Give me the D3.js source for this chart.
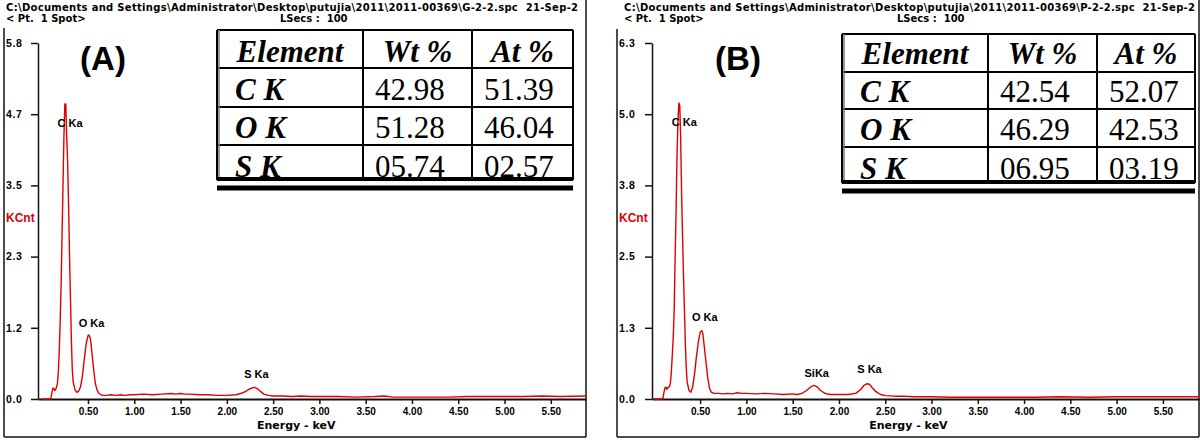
<!DOCTYPE html>
<html>
<head>
<meta charset="utf-8">
<script src="https://cdn.jsdelivr.net/npm/d3@7/dist/d3.min.js"></script>
<style>
body{margin:0;background:#fff;}
svg{display:block;font-family:"Liberation Sans",Arial,sans-serif;}
.head text{white-space:pre;}
</style>
</head>
<body>
<svg id="chart" width="1200" height="443"></svg>
<script>
// ---- data ----
var xTicks = [0.5,1.0,1.5,2.0,2.5,3.0,3.5,4.0,4.5,5.0,5.5];

var yTicksA = [0,1.17,2.34,3.51,4.68,5.85];
var yLabelsA = ["0.0","1.2","2.3","3.5","4.7","5.8"];
var yTicksB = [0,1.26,2.52,3.78,5.04,6.3];
var yLabelsB = ["0.0","1.3","2.5","3.8","5.0","6.3"];

// [energy keV, KCnt]
var spectrumA = [[0,0],[0.09,0],[0.10,0.02],[0.11,0.1],[0.12,0.17],[0.13,0.18],[0.14,0.14],[0.15,0.15],[0.16,0.2],
  [0.17,0.25],[0.18,0.45],[0.19,0.8],[0.20,1.3],[0.21,1.9],[0.22,2.7],[0.23,3.5],[0.24,4.3],[0.25,4.85],[0.26,4.85],
  [0.27,4.3],[0.28,3.9],[0.29,3.2],[0.30,2.4],[0.31,1.7],[0.32,1.0],[0.33,0.5],[0.34,0.28],[0.36,0.15],[0.38,0.11],
  [0.40,0.13],[0.42,0.2],[0.44,0.38],[0.46,0.65],[0.48,0.9],[0.50,1.04],[0.51,1.05],[0.52,1.02],[0.53,0.95],[0.54,0.8],
  [0.56,0.5],[0.58,0.25],[0.60,0.14],[0.62,0.09],[0.64,0.07],[0.66,0.06],[0.70,0.06],[0.75,0.07],[0.80,0.06],[0.85,0.07],
  [0.90,0.06],[0.95,0.07],[1.00,0.07],[1.10,0.08],[1.20,0.07],[1.30,0.08],[1.40,0.09],[1.45,0.08],[1.50,0.09],[1.55,0.08],
  [1.60,0.08],[1.70,0.07],[1.80,0.07],[1.90,0.06],[2.00,0.06],[2.10,0.07],[2.15,0.09],[2.20,0.12],[2.24,0.16],[2.27,0.18],
  [2.30,0.19],[2.33,0.17],[2.36,0.13],[2.40,0.08],[2.45,0.06],[2.50,0.05],[2.60,0.05],[2.70,0.04],[2.80,0.05],[2.90,0.04],
  [3.00,0.04],[3.20,0.04],[3.40,0.03],[3.60,0.04],[3.70,0.05],[3.80,0.03],[4.00,0.03],[4.20,0.03],[4.40,0.03],[4.60,0.04],
  [4.80,0.04],[5.00,0.04],[5.20,0.04],[5.40,0.05],[5.60,0.04],[5.88,0.05]];

var spectrumB = [[0,0],[0.09,0],[0.10,0.03],[0.11,0.12],[0.12,0.2],[0.13,0.21],[0.14,0.17],[0.15,0.2],[0.16,0.21],
  [0.17,0.22],[0.18,0.3],[0.19,0.5],[0.20,0.8],[0.21,1.1],[0.22,1.6],[0.23,2.5],[0.24,3.3],[0.25,4.3],[0.26,4.9],
  [0.27,5.24],[0.28,5.2],[0.29,4.6],[0.30,3.6],[0.31,2.9],[0.32,2.2],[0.33,1.6],[0.34,1.0],[0.35,0.55],[0.36,0.3],
  [0.38,0.15],[0.40,0.12],[0.42,0.22],[0.44,0.45],[0.46,0.75],[0.48,1.0],[0.50,1.18],[0.52,1.21],[0.53,1.15],[0.54,1.0],
  [0.56,0.7],[0.58,0.4],[0.60,0.2],[0.62,0.12],[0.65,0.1],[0.70,0.1],[0.75,0.09],[0.80,0.1],[0.85,0.09],[0.90,0.11],
  [0.95,0.1],[1.00,0.1],[1.10,0.09],[1.20,0.1],[1.30,0.09],[1.40,0.08],[1.50,0.09],[1.55,0.08],[1.60,0.1],[1.65,0.15],
  [1.70,0.22],[1.73,0.24],[1.76,0.22],[1.80,0.15],[1.85,0.1],[1.90,0.08],[2.00,0.08],[2.10,0.08],[2.18,0.1],[2.23,0.16],
  [2.27,0.24],[2.30,0.27],[2.33,0.26],[2.36,0.2],[2.40,0.13],[2.45,0.08],[2.50,0.06],[2.60,0.05],[2.70,0.05],[2.80,0.04],
  [3.00,0.04],[3.20,0.03],[3.50,0.03],[3.80,0.03],[4.10,0.03],[4.40,0.04],[4.70,0.03],[5.00,0.04],[5.30,0.04],[5.60,0.04],[5.89,0.04]];

// peak labels: [text, energy at label centre, KCnt at baseline]
var peaksA = [["C Ka",0.306,4.47],["O Ka",0.538,1.18],["S Ka",2.32,0.345]];
var peaksB = [["C Ka",0.33,4.83],["O Ka",0.55,1.38],["SiKa",1.76,0.39],["S Ka",2.33,0.46]];

var tableHead = ["Element","Wt %","At %"];
var elementsAB = ["C K","O K","S K"];
var wtA = ["42.98","51.28","05.74"];
var atA = ["51.39","46.04","02.57"];
var wtB = ["42.54","46.29","06.95"];
var atB = ["52.07","42.53","03.19"];

// header lines as far as the picture shows them
var fileA = "C:\\Documents and Settings\\Administrator\\Desktop\\putujia\\2011\\2011-00369\\G-2-2.spc  21-Sep-2";
var fileB = "C:\\Documents and Settings\\Administrator\\Desktop\\putujia\\2011\\2011-00369\\P-2-2.spc  21-Sep-2";

// ---- drawing ----
var svg = d3.select("#chart");
var RED = "#e00000";
var BMP = "'DejaVu Sans',Verdana,sans-serif";   // wide bold font like the instrument's screen font

function drawPanel(p){
    var g = svg.append("g");

    // header text
    var head = g.append("g").attr("class", "head")
        .style("font-weight", "bold").style("font-size", "10px").style("font-family", BMP);
    head.append("text").attr("x", p.textX).attr("y", 11).style("letter-spacing", "0.3px").text(p.file);
    head.append("text").attr("x", p.textX).attr("y", 22).text("< Pt.  1 Spot>");
    head.append("text").attr("x", p.lsecsX).attr("y", 22).text("LSecs :  100");

    // frame
    var frame = g.append("g").attr("stroke", "#111").attr("stroke-width", 1.5).attr("fill", "none");
    frame.append("line").attr("x1", p.left).attr("x2", p.left).attr("y1", p.frameTop).attr("y2", 437);
    frame.append("line").attr("x1", p.left).attr("x2", p.right).attr("y1", 437).attr("y2", 437);
    frame.append("line").attr("x1", p.right).attr("x2", p.right).attr("y1", 0).attr("y2", 437);

    var x = d3.scaleLinear().domain(p.xDomain).range([p.axisX, p.right]);
    var y = d3.scaleLinear().domain([0, p.yMax]).range([399, 43]);

    // y axis
    var yAxis = d3.axisLeft(y).tickValues(p.yTicks)
        .tickFormat(function(d, i){ return p.yLabels[i]; })
        .tickSize(7).tickSizeOuter(0);
    var ya = g.append("g").attr("transform", "translate(" + p.axisX + ",0)").call(yAxis);
    ya.select(".domain").attr("stroke", "#111").attr("stroke-width", 1.5);
    ya.selectAll(".tick line").attr("stroke", "#111").attr("stroke-width", 1.5);
    ya.selectAll(".tick text").attr("x", p.left + 2 - p.axisX).attr("text-anchor", "start")
        .attr("fill", "#000").style("font-size", "10.5px").style("font-weight", "bold")
        .style("letter-spacing", "0.6px")
        .style("font-family", "'Liberation Sans',Arial,sans-serif");

    // x axis
    var xAxis = d3.axisBottom(x).tickValues(xTicks).tickFormat(d3.format(".2f"))
        .tickSize(5).tickSizeOuter(0);
    var xa = g.append("g").attr("transform", "translate(0,399)").call(xAxis);
    xa.select(".domain").attr("stroke", "#111").attr("stroke-width", 2);
    xa.selectAll(".tick line").attr("stroke", "#111").attr("stroke-width", 1.5);
    xa.selectAll(".tick text").attr("y", 9).attr("fill", "#000")
        .style("font-size", "10px").style("font-weight", "bold")
        .style("font-family", "'Liberation Sans',Arial,sans-serif");

    g.append("text").attr("x", x(p.xTitleE)).attr("y", 429).attr("text-anchor", "middle")
        .style("font-size", "11px").style("font-weight", "bold").style("font-family", BMP).text("Energy - keV");
    g.append("text").attr("x", p.left + 2).attr("y", 222).attr("fill", RED)
        .style("font-size", "12px").style("font-weight", "bold").text("KCnt");

    // spectrum
    var line = d3.line().x(function(d){ return x(d[0]); }).y(function(d){ return y(d[1]); });
    g.append("path").attr("d", line(p.spectrum)).attr("fill", "none")
        .attr("stroke", RED).attr("stroke-width", 1.4).attr("stroke-linejoin", "round");

    // peak labels
    g.selectAll(".peak").data(p.peaks).enter().append("text").attr("class", "peak")
        .attr("x", function(d){ return x(d[1]); })
        .attr("y", function(d){ return y(d[2]); })
        .attr("text-anchor", "middle").style("font-size", "11px").style("font-weight", "bold")
        .text(function(d){ return d[0]; });

    // panel letter
    g.append("text").attr("x", p.letterX).attr("y", 70).attr("text-anchor", "middle")
        .style("font-size", "33px").style("font-weight", "bold").text(p.letter);

    drawTable(g, p.table);
}

function drawTable(g, t){
    var tg = g.append("g");
    var c = t.cols, r = t.rows;
    tg.append("rect").attr("x", c[0]).attr("y", r[0]).attr("width", c[3] - c[0]).attr("height", r[4] - r[0])
        .attr("fill", "#fff");
    var ln = tg.append("g").attr("stroke", "#000").attr("stroke-width", 2);
    c.forEach(function(cx){
        ln.append("line").attr("x1", cx).attr("x2", cx).attr("y1", r[0]).attr("y2", r[4] + 1);
    });
    r.slice(0, 4).forEach(function(ry){
        ln.append("line").attr("x1", c[0]).attr("x2", c[3]).attr("y1", ry).attr("y2", ry);
    });
    // left border shadow
    tg.append("line").attr("x1", c[0] + 2).attr("x2", c[0] + 2).attr("y1", r[0]).attr("y2", r[4])
        .attr("stroke", "#777").attr("stroke-width", 1.5);

    var serif = "'Liberation Serif','Times New Roman',serif";
    tableHead.forEach(function(h, i){
        tg.append("text").attr("x", (c[i] + c[i + 1]) / 2).attr("y", t.base[0])
            .attr("text-anchor", "middle").style("font-family", serif).style("font-size", "31px")
            .style("font-weight", "bold").style("font-style", "italic").text(h);
    });
    elementsAB.forEach(function(el, i){
        tg.append("text").attr("x", c[0] + 18).attr("y", t.base[i + 1])
            .style("font-family", serif).style("font-size", "31px")
            .style("font-weight", "bold").style("font-style", "italic").text(el);
        tg.append("text").attr("x", c[1] + 12).attr("y", t.base[i + 1])
            .style("font-family", serif).style("font-size", "31px").text(t.wt[i]);
        tg.append("text").attr("x", c[2] + 12).attr("y", t.base[i + 1])
            .style("font-family", serif).style("font-size", "31px").text(t.at[i]);
    });
    // heavy bottom double rule
    tg.append("line").attr("x1", c[0]).attr("x2", c[3]).attr("y1", r[4]).attr("y2", r[4])
        .attr("stroke", "#000").attr("stroke-width", 4);
    tg.append("line").attr("x1", c[0]).attr("x2", c[3]).attr("y1", r[4] + 9).attr("y2", r[4] + 9)
        .attr("stroke", "#000").attr("stroke-width", 5);
}

drawPanel({
    id: "A", left: 4, right: 586, frameTop: 28, textX: 6, lsecsX: 280, axisX: 38,
    xDomain: [-0.04, 5.88], yMax: 5.85, yTicks: yTicksA, yLabels: yLabelsA, xTitleE: 2.75,
    spectrum: spectrumA, peaks: peaksA, file: fileA, letter: "(A)", letterX: 103,
    table: {cols: [217, 363, 472, 573], rows: [30, 68, 107, 145, 179], base: [62, 100, 138, 177], wt: wtA, at: atA}
});
drawPanel({
    id: "B", left: 617, right: 1199, frameTop: 29, textX: 624, lsecsX: 897, axisX: 652,
    xDomain: [-0.02, 5.89], yMax: 6.3, yTicks: yTicksB, yLabels: yLabelsB, xTitleE: 2.75,
    spectrum: spectrumB, peaks: peaksB, file: fileB, letter: "(B)", letterX: 738,
    table: {cols: [842, 988, 1097, 1195], rows: [34, 72, 109, 147, 182], base: [64, 102, 140, 179], wt: wtB, at: atB}
});
</script>
</body>
</html>
